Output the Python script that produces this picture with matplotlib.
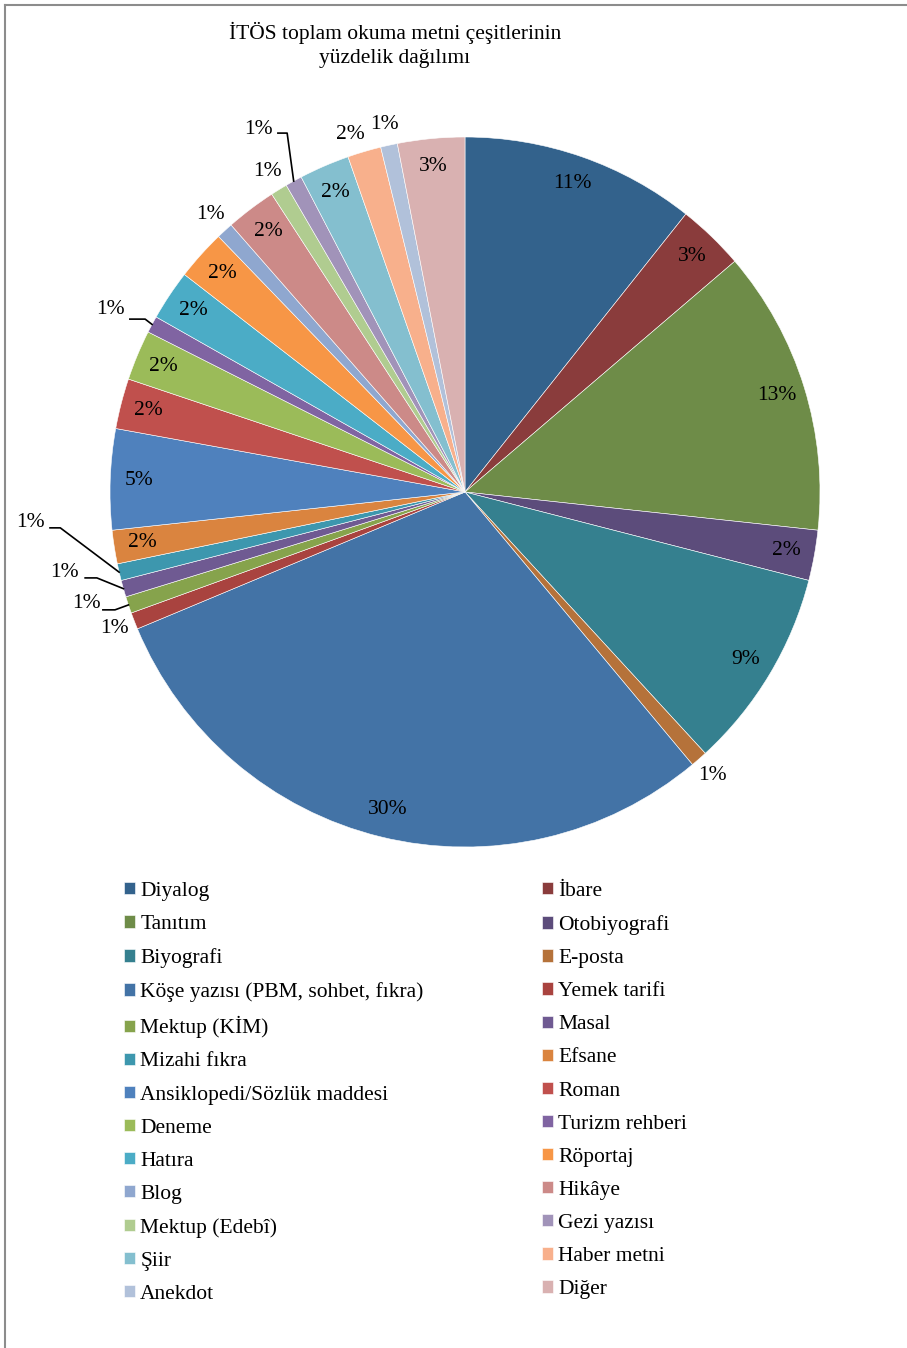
import numpy as np
import matplotlib
matplotlib.use("Agg")
import matplotlib.pyplot as plt
from matplotlib.lines import Line2D

plt.rcParams['font.family'] = ['Liberation Serif', 'DejaVu Serif']

# veri: metin çeşitleri ve sayıları (pasta dilimleri saat yönünde, tepeden başlar)
cesitler = ["Diyalog", "İbare", "Tanıtım", "Otobiyografi", "Biyografi", "E-posta",
            "Köşe yazısı (PBM, sohbet, fıkra)", "Yemek tarifi", "Mektup (KİM)", "Masal",
            "Mizahi fıkra", "Efsane", "Ansiklopedi/Sözlük maddesi", "Roman", "Deneme",
            "Turizm rehberi", "Hatıra", "Röportaj", "Blog", "Hikâye", "Mektup (Edebî)",
            "Gezi yazısı", "Şiir", "Haber metni", "Anekdot", "Diğer"]
sayilar = [14, 4, 17, 3, 12, 1, 39, 1, 1, 1, 1, 2, 6, 3, 3, 1, 3, 3, 1, 3, 1, 1, 3, 2, 1, 4]
renkler = ["#33628C", "#8A3C3C", "#6E8C48", "#5C4C7B", "#35808F", "#B5723A",
           "#4373A6", "#A9433F", "#86A34C", "#6F5A92", "#3D97AE", "#DA843F",
           "#4F81BD", "#C0504D", "#9BBB59", "#8064A2", "#4BACC6", "#F79646",
           "#8FA7CF", "#CC8A88", "#B0CC90", "#A193B9", "#84BFCF", "#F8B08C",
           "#B1C1DA", "#D9B1B1"]

# disarida yazilan etiketler (kilavuz cizgili olanlar icin metin ve dirsek konumu)
disari = ["E-posta", "Yemek tarifi", "Mektup (KİM)", "Masal", "Mizahi fıkra",
          "Turizm rehberi", "Blog", "Mektup (Edebî)", "Gezi yazısı", "Haber metni", "Anekdot"]
kilavuz = {
    "Gezi yazısı": ((-0.583, 1.02), (-0.527, 1.011), (-0.501, 1.011)),
    "Turizm rehberi": ((-1.0, 0.513), (-0.944, 0.487), (-0.901, 0.487)),
    "Mizahi fıkra": ((-1.225, -0.085), (-1.169, -0.101), (-1.14, -0.101)),
    "Masal": ((-1.127, -0.228), (-1.07, -0.242), (-1.037, -0.242)),
    "Mektup (KİM)": ((-1.065, -0.313), (-1.02, -0.332), (-0.986, -0.332)),
}
kaydir = {"Haber metni": (-0.324, 1.006)}  # cakismasin diye elle konum

R = 355.0  # piksel olarak yaricap
fig = plt.figure(figsize=(9.07, 13.48), dpi=100)
ax = fig.add_axes([0, 0, 1, 1])

dilimler, _ = ax.pie(sayilar, colors=renkler, startangle=90, counterclock=False,
                     radius=1, center=(0, 0),
                     wedgeprops=dict(edgecolor='white', linewidth=0.4))
ax.set_xlim(-465 / R, 442 / R)
ax.set_ylim(-(1348 - 492) / R, 492 / R)
ax.set_aspect('equal')
ax.axis('off')

toplam = sum(sayilar)
fs = 15.5
for w, ad, n in zip(dilimler, cesitler, sayilar):
    etiket = "%d%%" % round(100 * n / toplam)
    orta = np.deg2rad((w.theta1 + w.theta2) / 2)
    ux, uy = np.cos(orta), np.sin(orta)
    if ad in kilavuz:
        (tx, ty), (x1, y1), (x2, y2) = kilavuz[ad]
        ax.text(tx, ty, etiket, ha='center', va='center', fontsize=fs)
        ax.plot([x1, x2, ux], [y1, y2, uy], color='black', lw=1.2)
    elif ad in kaydir:
        ax.text(*kaydir[ad], etiket, ha='center', va='center', fontsize=fs)
    elif ad in disari:
        ax.text(1.06 * ux, 1.06 * uy, etiket, ha='center', va='center', fontsize=fs)
    else:
        ax.text(0.92 * ux, 0.92 * uy, etiket, ha='center', va='center', fontsize=fs)

fig.text(395 / 907, 1 - 45 / 1348, "İTÖS toplam okuma metni çeşitlerinin\nyüzdelik dağılımı",
         ha='center', va='center', fontsize=15.5, linespacing=1.3)

# lejant: iki sutun, satir satir
for k, x0 in [(0, 124), (1, 542)]:
    fig.legend(dilimler[k::2], cesitler[k::2], loc='upper left',
               bbox_to_anchor=(x0 / 907, 1 - 882 / 1348), bbox_transform=fig.transFigure,
               frameon=False, fontsize=15.5, borderpad=0, borderaxespad=0,
               handlelength=0.5, handleheight=0.5, handletextpad=0.25,
               labelspacing=0.655)

# cerceve (ust ve sol)
fig.add_artist(Line2D([5 / 907, 1], [1 - 5 / 1348, 1 - 5 / 1348], color='#8c8c8c', lw=1.5))
fig.add_artist(Line2D([5 / 907, 5 / 907], [0, 1 - 5 / 1348], color='#8c8c8c', lw=1.5))

fig.savefig("out.png", dpi=100)
